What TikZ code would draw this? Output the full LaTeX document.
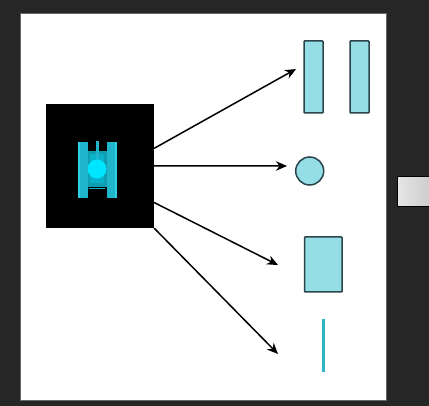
\documentclass[tikz,border=0pt]{standalone}
\usetikzlibrary{arrows.meta}
\definecolor{bgdark}{HTML}{262626}
\definecolor{shapefill}{HTML}{96DEE6}
\definecolor{shapeline}{HTML}{2A464C}
\definecolor{trackcol}{HTML}{1FB6CC}
\definecolor{trackedge}{HTML}{30CFE4}
\definecolor{bodycol}{HTML}{0F9DB2}
\definecolor{turret}{HTML}{00E5FF}
\definecolor{barline}{HTML}{2DB4C8}
\tikzset{
  panel/.style={fill=white,draw=black!60,line width=1pt},
  shapebox/.style={rectangle,draw=shapeline,line width=1.5pt,fill=shapefill,rounded corners=0.8pt,inner sep=0pt,outer sep=0pt},
  linkarrow/.style={draw=black,line width=1.5pt,-{Stealth[length=11pt,width=9.5pt]}},
}
\begin{document}
\begin{tikzpicture}[x=1pt,y=-1pt]
\useasboundingbox (0,0) rectangle (429,406);
\fill[bgdark] (0,0) rectangle (429,406);
\draw[panel] (20,14) rectangle (386,401);
\node[left color=black!10,right color=black!20,draw=black,line width=0.6pt,rectangle,minimum width=33pt,minimum height=30pt,inner sep=0pt,anchor=north west] (button) at (397,176) {};
% tank picture
\node[fill=black,rectangle,minimum width=108.5pt,minimum height=124.5pt,inner sep=0pt,outer sep=0pt,anchor=north west] (tankbox) at (45.7,103.7) {};
\fill[bodycol] (87,151) rectangle (107,187);
\fill[bodycol!70!turret] (90,154) rectangle (104,183);
\fill[black] (87,187) rectangle (107,188);
\fill[turret!40!bodycol] (89,188) rectangle (105,189.5);
\fill[trackcol] (78,142) rectangle (87.5,198);
\fill[trackcol] (107,142) rectangle (117,198);
\fill[trackedge] (78,142) rectangle (80,198);
\fill[trackedge] (115,142) rectangle (117,198);
\fill[trackcol] (96,141) rectangle (98.5,162);
\fill[turret] (97,169) circle (9.5);
% target shapes
\node[shapebox,minimum width=19pt,minimum height=72pt,anchor=north west] (rectA) at (304,41) {};
\node[shapebox,minimum width=19pt,minimum height=72pt,anchor=north west] (rectB) at (350,41) {};
\node[shapebox,circle,minimum size=28pt,rounded corners=0pt] (circ) at (309.7,171) {};
\node[shapebox,minimum width=37.5pt,minimum height=55pt,anchor=north west] (rectC) at (304.5,237) {};
\coordinate (lineTop) at (323,319);
\coordinate (lineBot) at (323,372);
\draw[barline,line width=3pt] (lineTop) -- (lineBot);
% arrow tips
\coordinate (tipA) at (296,69);
\coordinate (tipB) at (287,166);
\coordinate (tipC) at (278,265);
\coordinate (tipD) at (278,354);
\draw[linkarrow] (tankbox.18.4) -- (tipA);
\draw[linkarrow] (tankbox.east) -- (tipB);
\draw[linkarrow] (tankbox.-34.4) -- (tipC);
\draw[linkarrow] (tankbox.south east) -- (tipD);
\end{tikzpicture}
\end{document}
